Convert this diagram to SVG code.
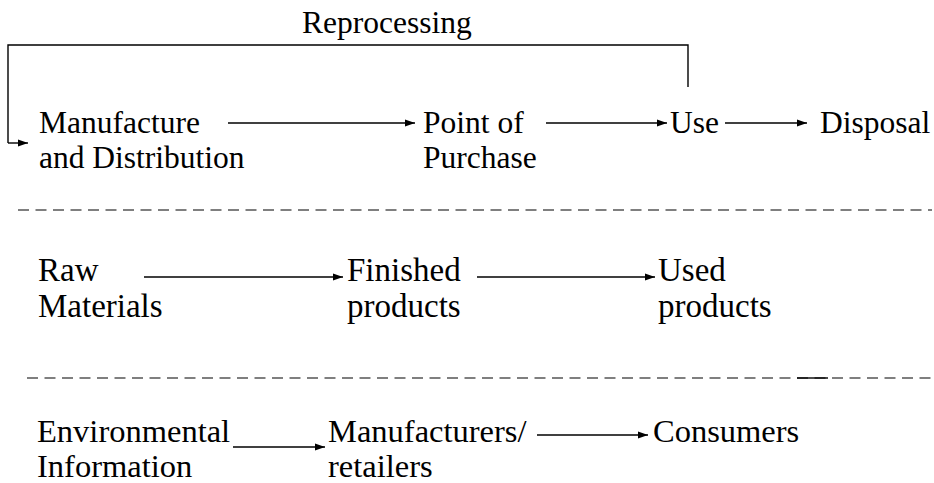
<svg xmlns="http://www.w3.org/2000/svg" width="934" height="483" viewBox="0 0 934 483">
<style>
.ln{stroke:#000;stroke-width:1.4;fill:none}
.arr{stroke:#000;stroke-width:1.4;fill:none;marker-end:url(#ah)}
.dash{stroke:#000;stroke-width:1.2;stroke-dasharray:11 6.5;fill:none}
</style>
<defs>
<marker id="ah" markerUnits="userSpaceOnUse" markerWidth="11" markerHeight="8" refX="10" refY="4" orient="auto">
<path d="M0,0.5 L10,4 L0,7.5 z" fill="#000"/>
</marker>
</defs>
<rect width="934" height="483" fill="#fff"/>
<g id="reprocessing-label"><text font-family="Liberation Serif" font-size="31.5" x="302" y="33">Reprocessing</text></g>
<g id="manufacture"><text font-family="Liberation Serif" font-size="31.5" x="39" y="133">Manufacture</text><text font-family="Liberation Serif" font-size="31.5" x="39" y="168">and Distribution</text></g>
<g id="point-of-purchase"><text font-family="Liberation Serif" font-size="31.5" x="423" y="133">Point of</text><text font-family="Liberation Serif" font-size="31.5" x="423" y="168">Purchase</text></g>
<g id="use"><text font-family="Liberation Serif" font-size="31.5" x="670" y="133">Use</text></g>
<g id="disposal"><text font-family="Liberation Serif" font-size="31.5" x="820" y="133">Disposal</text></g>
<g id="raw-materials"><text font-family="Liberation Serif" font-size="33" x="38" y="281">Raw</text><text font-family="Liberation Serif" font-size="33" x="38" y="317">Materials</text></g>
<g id="finished-products"><text font-family="Liberation Serif" font-size="33" x="347" y="281">Finished</text><text font-family="Liberation Serif" font-size="33" x="347" y="317">products</text></g>
<g id="used-products"><text font-family="Liberation Serif" font-size="33" x="658" y="281">Used</text><text font-family="Liberation Serif" font-size="33" x="658" y="317">products</text></g>
<g id="environmental-information"><text font-family="Liberation Serif" font-size="32.5" x="37" y="442">Environmental</text><text font-family="Liberation Serif" font-size="32.5" x="37" y="477">Information</text></g>
<g id="manufacturers-retailers"><text font-family="Liberation Serif" font-size="32.5" x="328" y="442">Manufacturers/</text><text font-family="Liberation Serif" font-size="32.5" x="328" y="477">retailers</text></g>
<g id="consumers"><text font-family="Liberation Serif" font-size="32.5" x="653" y="442">Consumers</text></g>
<g id="separators">
<line class="dash" x1="18" y1="210" x2="932" y2="210"/>
<line class="dash" x1="27" y1="378" x2="932" y2="378"/>
<line class="ln" x1="797" y1="378" x2="828" y2="378"/>
</g>
<g id="connectors">
<polyline class="ln" points="688,87 688,45 8,45 8,143"/>
<line class="arr" x1="8" y1="143" x2="28" y2="143"/>
<line class="arr" x1="228" y1="123" x2="415" y2="123"/>
<line class="arr" x1="546" y1="123" x2="667" y2="123"/>
<line class="arr" x1="725" y1="123" x2="807" y2="123"/>
<line class="arr" x1="144" y1="277" x2="343" y2="277"/>
<line class="arr" x1="477" y1="277" x2="655" y2="277"/>
<line class="arr" x1="233" y1="447" x2="325" y2="447"/>
<line class="arr" x1="537" y1="435" x2="648" y2="435"/>
</g>
</svg>
